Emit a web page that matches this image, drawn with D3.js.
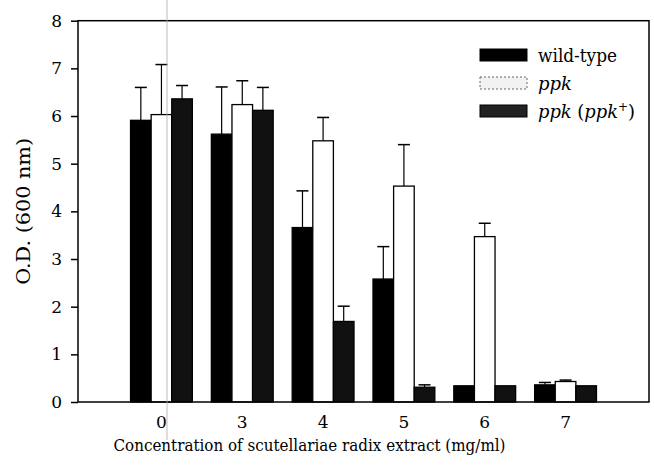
<!DOCTYPE html>
<html>
<head>
<meta charset="utf-8">
<script src="https://cdn.jsdelivr.net/npm/d3@7"></script>
<style>
  body { margin: 0; background: #fff; }
</style>
</head>
<body>
<div class="bar-chart-container"></div>
<script>
// data
const concentrations = ['0', '3', '4', '5', '6', '7'];
const seriesNames = ['wild-type', 'ppk', 'ppk (ppk+)'];
const wildType    = [5.91, 5.62, 3.66, 2.58, 0.34, 0.36];
const wildTypeErr = [0.69, 0.99, 0.77, 0.68, 0, 0.05];
const ppk         = [6.03, 6.24, 5.48, 4.53, 3.47, 0.43];
const ppkErr      = [1.05, 0.50, 0.49, 0.87, 0.28, 0.03];
const ppkComp     = [6.36, 6.12, 1.69, 0.31, 0.34, 0.34];
const ppkCompErr  = [0.28, 0.48, 0.32, 0.05, 0, 0];
const yTicks = [0, 1, 2, 3, 4, 5, 6, 7, 8];

const values = [wildType, ppk, ppkComp];
const errors = [wildTypeErr, ppkErr, ppkCompErr];
const fills = ['#000', '#fff', '#111'];
const FONT = "'DejaVu Serif', serif";

function prepareData(){
    const rows = [];
    concentrations.forEach((c, i) => {
        seriesNames.forEach((s, j) => {
            rows.push({conc: c, series: s, value: values[j][i], err: errors[j][i], fill: fills[j]});
        });
    });
    return rows;
}

function setupCanvas(data){
    const svg_width = 654;
    const svg_height = 466;
    const margin = {top: 20.7, right: 5, bottom: 64, left: 78};
    const chart_width = svg_width - margin.left - margin.right;
    const chart_height = svg_height - margin.top - margin.bottom;

    const svg = d3.select('.bar-chart-container').append('svg')
                  .attr('width', svg_width)
                  .attr('height', svg_height)
                  .style('font-family', FONT);
    const g = svg.append('g')
                 .attr('transform', `translate(${margin.left},${margin.top})`);

    // scales
    const xScale = d3.scaleBand().domain(concentrations)
                     .range([0, chart_width])
                     .paddingInner(0.235)
                     .paddingOuter(0.65);
    const xInner = d3.scaleBand().domain(seriesNames)
                     .range([0, xScale.bandwidth()]);
    const yScale = d3.scaleLinear().domain([0, 8]).range([chart_height, 0]);

    // error bars (upper only)
    const errData = data.filter(d => d.err > 0);
    const cx = d => xScale(d.conc) + xInner(d.series) + xInner.bandwidth() / 2;
    const eg = g.append('g').attr('class', 'errors');
    eg.selectAll('.err-line').data(errData).enter().append('line')
      .attr('x1', cx).attr('x2', cx)
      .attr('y1', d => yScale(d.value))
      .attr('y2', d => yScale(d.value + d.err))
      .attr('stroke', '#000').attr('stroke-width', 1.2);
    eg.selectAll('.err-cap').data(errData).enter().append('line')
      .attr('x1', d => cx(d) - 6).attr('x2', d => cx(d) + 6)
      .attr('y1', d => yScale(d.value + d.err))
      .attr('y2', d => yScale(d.value + d.err))
      .attr('stroke', '#000').attr('stroke-width', 1.5);

    // bars
    g.selectAll('.bar').data(data).enter().append('rect')
     .attr('class', 'bar')
     .attr('x', d => xScale(d.conc) + xInner(d.series))
     .attr('y', d => yScale(d.value))
     .attr('width', xInner.bandwidth())
     .attr('height', d => chart_height - yScale(d.value))
     .style('fill', d => d.fill)
     .style('stroke', '#000')
     .style('stroke-width', 1.3);

    // frame
    g.append('rect')
     .attr('width', chart_width).attr('height', chart_height)
     .attr('fill', 'none').attr('stroke', '#000').attr('stroke-width', 1.5);

    // axes
    const yAxis = d3.axisLeft(yScale).tickValues(yTicks).tickFormat(d3.format('d'))
                    .tickSizeInner(7).tickSizeOuter(0).tickPadding(9);
    const yAxisDraw = g.append('g').attr('class', 'y axis').call(yAxis);
    yAxisDraw.select('.domain').remove();
    yAxisDraw.selectAll('line').attr('stroke-width', 1.5);
    yAxisDraw.selectAll('text').style('font-family', FONT).style('font-size', '17px');

    const xAxis = d3.axisBottom(xScale).tickSize(0).tickPadding(14);
    const xAxisDraw = g.append('g').attr('class', 'x axis')
                       .attr('transform', `translate(0,${chart_height})`)
                       .call(xAxis);
    xAxisDraw.select('.domain').remove();
    xAxisDraw.selectAll('text').style('font-family', FONT).style('font-size', '17px');

    // axis titles (squeezed to the width of the original serif text)
    g.append('text')
     .attr('x', xScale('4') + xScale.bandwidth() * 0.28)
     .attr('y', chart_height + 49)
     .attr('text-anchor', 'middle')
     .attr('textLength', 392)
     .attr('lengthAdjust', 'spacingAndGlyphs')
     .style('font-size', '17px')
     .text('Concentration of scutellariae radix extract (mg/ml)');

    g.append('text')
     .attr('transform', `translate(${-48},${yScale(4)}) rotate(-90)`)
     .attr('text-anchor', 'middle')
     .attr('textLength', 147)
     .attr('lengthAdjust', 'spacingAndGlyphs')
     .style('font-size', '19px')
     .text('O.D. (600 nm)');

    // legend
    const legend = svg.append('g').attr('class', 'legend')
                      .attr('transform', 'translate(480,49)');
    const swatchFill = ['#000', '#f2f2f2', '#222'];
    const textLen = [79, 34, 97];
    seriesNames.forEach((s, i) => {
        const row = legend.append('g').attr('transform', `translate(0,${i * 28})`);
        row.append('rect').attr('width', 47).attr('height', 12)
           .attr('fill', swatchFill[i])
           .attr('stroke', i === 1 ? '#666' : '#000')
           .attr('stroke-width', 1)
           .attr('stroke-dasharray', i === 1 ? '2,2' : null);
        const t = row.append('text').attr('x', 58).attr('y', 13)
                     .attr('textLength', textLen[i])
                     .attr('lengthAdjust', 'spacingAndGlyphs')
                     .style('font-size', '18px');
        if (i === 0) {
            t.text(s);
        } else if (i === 1) {
            t.append('tspan').style('font-style', 'italic').text('ppk');
        } else {
            t.append('tspan').style('font-style', 'italic').text('ppk');
            t.append('tspan').text(' (');
            t.append('tspan').style('font-style', 'italic').text('ppk');
            t.append('tspan').attr('dy', -7).style('font-size', '12px').text('+');
            t.append('tspan').attr('dy', 7).text(')');
        }
    });

    // faint vertical scan line visible in the original
    svg.append('line')
       .attr('x1', 167).attr('x2', 167)
       .attr('y1', 0).attr('y2', 440)
       .attr('stroke', '#aaa').attr('stroke-width', 0.8);
}

setupCanvas(prepareData());
</script>
</body>
</html>
